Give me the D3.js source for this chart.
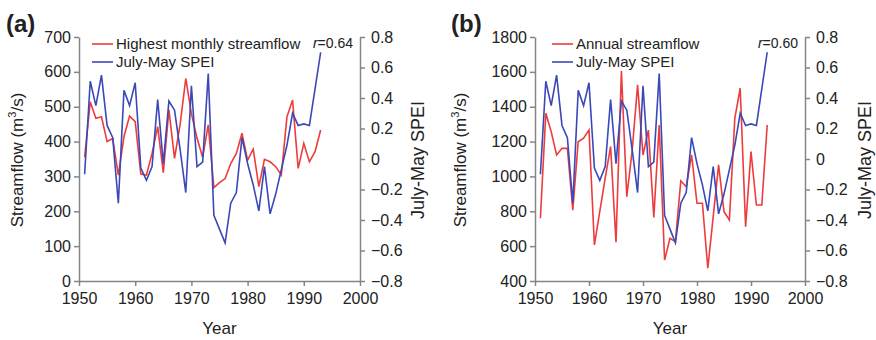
<!DOCTYPE html>
<html>
<head>
<meta charset="utf-8">
<script src="https://cdn.jsdelivr.net/npm/d3@7"></script>
<style>
  body { margin: 0; background: #fff; }
  svg text { font-family: "Liberation Sans", Arial, sans-serif; fill: #222; }
  .axis path, .axis line { stroke: #858585; stroke-width: 1.5; }
  .axis text { font-size: 16px; }
</style>
</head>
<body>
<svg id="chart" width="876" height="340"></svg>
<script>
// años y series
const years = [1951,1952,1953,1954,1955,1956,1957,1958,1959,1960,
  1961,1962,1963,1964,1965,1966,1967,1968,1969,1970,
  1971,1972,1973,1974,1975,1976,1977,1978,1979,1980,
  1981,1982,1983,1984,1985,1986,1987,1988,1989,1990,
  1991,1992,1993];

const spei = [-0.10,0.51,0.35,0.55,0.22,0.14,-0.29,0.45,0.35,0.50,
  -0.06,-0.14,-0.05,0.39,-0.03,0.38,0.32,0.06,-0.22,0.48,
  -0.05,-0.02,0.56,-0.37,-0.46,-0.55,-0.29,-0.22,0.14,-0.03,
  -0.17,-0.34,-0.05,-0.36,-0.23,-0.07,0.09,0.30,0.22,0.23,
  0.22,0.46,0.70];

const highestMonthly = [355,514,467,471,400,409,304,414,473,457,
  307,304,366,443,311,491,352,450,581,480,
  410,355,448,268,282,294,337,366,424,347,
  378,271,349,342,328,304,471,519,323,395,
  342,371,433];

const annualFlow = [760,1362,1257,1123,1161,1161,807,1199,1219,1266,
  607,800,990,1171,622,1605,884,1150,1525,1123,
  1266,765,1295,520,645,626,975,941,1123,846,
  846,473,769,1066,798,750,1333,1506,712,1142,
  836,836,1295];

const yearTicks = [1950,1960,1970,1980,1990,2000];
const speiTicks = [-0.8,-0.6,-0.4,-0.2,0,0.2,0.4,0.6,0.8];

const RED = "#ee3b3b", BLUE = "#3a48b8";
const svg = d3.select("#chart");

// Dibuja un panel completo
function panel(cfg) {
  const x = d3.scaleLinear().domain([1950, 2000]).range([cfg.left, cfg.right]);
  const yL = d3.scaleLinear().domain(cfg.flowDomain).range([281, 37]);
  const yR = d3.scaleLinear().domain([-0.8, 0.8]).range([281, 37]);
  const g = svg.append("g");

  g.append("g").attr("class", "axis")
    .attr("transform", `translate(0,281)`)
    .call(d3.axisBottom(x).tickValues(yearTicks).tickFormat(d3.format("d"))
      .tickSize(5).tickSizeOuter(0).tickPadding(7));

  g.append("g").attr("class", "axis")
    .attr("transform", `translate(${cfg.left},0)`)
    .call(d3.axisLeft(yL).tickValues(cfg.flowTicks).tickFormat(d3.format("d"))
      .tickSize(5).tickSizeOuter(0).tickPadding(3));

  g.append("g").attr("class", "axis")
    .attr("transform", `translate(${cfg.right},0)`)
    .call(d3.axisRight(yR).tickValues(speiTicks).tickFormat(d => d === 0 ? "0" : d3.format(".1f")(d))
      .tickSize(5).tickSizeOuter(0).tickPadding(6));

  const flowLine = d3.line().x((d, i) => x(years[i])).y(d => yL(d));
  const speiLine = d3.line().x((d, i) => x(years[i])).y(d => yR(d));

  g.append("path").datum(cfg.flow).attr("d", flowLine)
    .attr("fill", "none").attr("stroke", RED).attr("stroke-width", 1.6);
  g.append("path").datum(spei).attr("d", speiLine)
    .attr("fill", "none").attr("stroke", BLUE).attr("stroke-width", 1.6);

  // leyenda
  const lx = cfg.left + cfg.legendDx;
  [[RED, cfg.flowName, 44], [BLUE, "July-May SPEI", 62]].forEach(([c, t, ly]) => {
    g.append("line").attr("x1", lx).attr("x2", lx + 21).attr("y1", ly).attr("y2", ly)
      .attr("stroke", c).attr("stroke-width", 1.6);
    g.append("text").attr("x", lx + 24).attr("y", ly + 5).attr("font-size", 15).text(t);
  });

  const rt = g.append("text").attr("x", cfg.right - 7).attr("y", 48)
    .attr("text-anchor", "end").attr("font-size", 14);
  rt.append("tspan").attr("font-style", "italic").text("r");
  rt.append("tspan").text("=" + cfg.r);

  // títulos de ejes
  g.append("text").attr("x", (cfg.left + cfg.right) / 2).attr("y", 334)
    .attr("text-anchor", "middle").attr("font-size", 17).text("Year");

  const tl = g.append("text")
    .attr("transform", `translate(${cfg.leftTitleX},160) rotate(-90)`)
    .attr("text-anchor", "middle").attr("font-size", 17);
  tl.append("tspan").text("Streamflow (m");
  tl.append("tspan").attr("font-size", 11).attr("dy", -7).text("3");
  tl.append("tspan").attr("dy", 7).text("/s)");

  g.append("text")
    .attr("transform", `translate(${cfg.rightTitleX},160) rotate(-90)`)
    .attr("text-anchor", "middle").attr("font-size", 18).text("July-May SPEI");

  g.append("text").attr("x", cfg.labelX).attr("y", 32)
    .attr("font-size", 24).attr("font-weight", "bold").text(cfg.label);
}

panel({
  left: 79, right: 360, flowDomain: [0, 700],
  flowTicks: [0,100,200,300,400,500,600,700],
  flow: highestMonthly, flowName: "Highest monthly streamflow",
  legendDx: 13, r: "0.64", leftTitleX: 23, rightTitleX: 424, labelX: 6, label: "(a)"
});

panel({
  left: 535, right: 805, flowDomain: [400, 1800],
  flowTicks: [400,600,800,1000,1200,1400,1600,1800],
  flow: annualFlow, flowName: "Annual streamflow",
  legendDx: 17, r: "0.60", leftTitleX: 466, rightTitleX: 871, labelX: 451, label: "(b)"
});
</script>
</body>
</html>
